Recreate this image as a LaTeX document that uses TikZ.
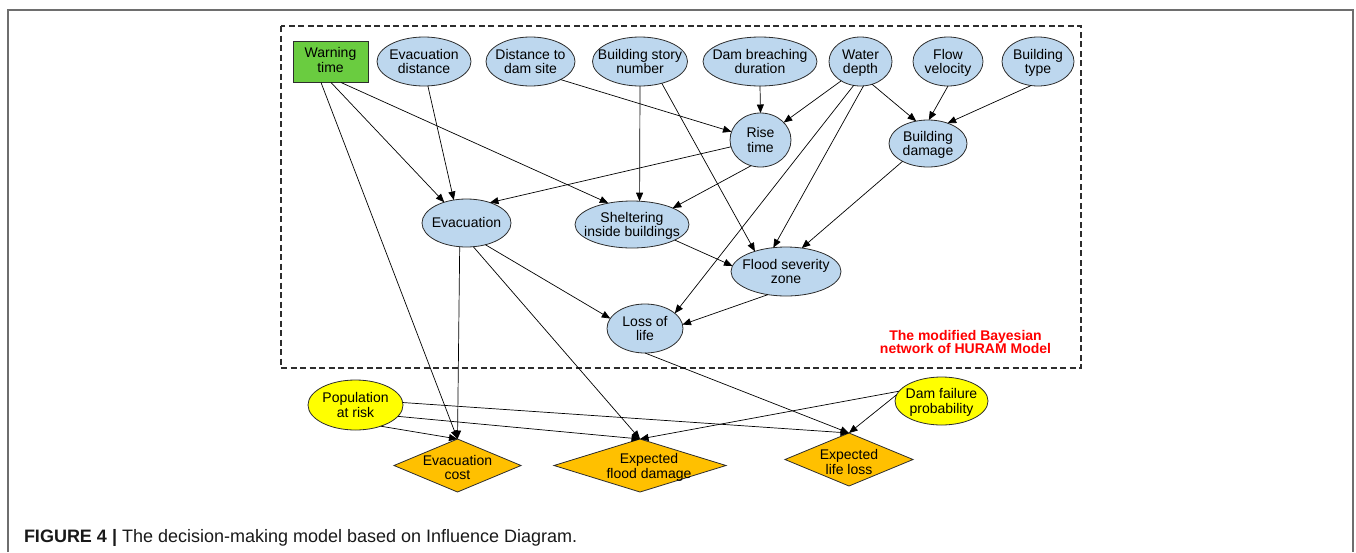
\documentclass[tikz,border=0pt]{standalone}
\usepackage{fontspec}
\setmainfont{Liberation Sans}
\usetikzlibrary{shapes.geometric,arrows.meta}
\definecolor{nodeblue}{RGB}{189,215,238}
\definecolor{warngreen}{RGB}{106,204,64}
\definecolor{riskyellow}{RGB}{255,255,0}
\definecolor{costorange}{RGB}{255,192,0}
\definecolor{framegray}{RGB}{110,110,110}
\definecolor{outlinegray}{RGB}{45,45,45}
\definecolor{labelred}{RGB}{255,0,0}
% centred multi-line label that does not enlarge its node
\newcommand\ntxt[2][-5.5pt]{\makebox[0pt]{\raisebox{#1}[0pt][0pt]{\begin{tabular}{@{}c@{}}#2\end{tabular}}}}

\begin{document}
\begin{tikzpicture}[x=1pt,y=-1pt,
  every node/.style={font=\fontsize{14}{14}\selectfont, inner sep=0pt, outer sep=0pt},
  chance/.style={ellipse, draw=outlinegray, line width=0.8pt, fill=nodeblue},
  inputnode/.style={ellipse, draw=outlinegray, line width=0.8pt, fill=riskyellow},
  decision/.style={rectangle, draw=outlinegray, line width=0.8pt, fill=warngreen},
  utility/.style={diamond, draw=outlinegray, line width=0.8pt, fill=costorange},
  arr/.style={-{Triangle[length=8.5pt,width=7pt]}, line width=0.7pt, black}
]
\useasboundingbox (0,0) rectangle (1356,552);

% outer figure frame, open at the bottom
\draw[framegray, line width=1.2pt] (8,552) -- (8,10) -- (1353,10) -- (1353,552);

% boundary of the Bayesian network part
\draw[outlinegray, line width=1.3pt, dash pattern=on 6pt off 3.5pt] (281,26) rectangle (1081,368);

% top row
\node[decision, minimum width=75pt, minimum height=41pt] (wt) at (330.5,62)
  {\ntxt[-3.6pt]{\fontsize{14}{18}\selectfont Warning\\time}};
\node[chance, minimum width=94pt, minimum height=49pt] (ed) at (424,61.5) {\ntxt{Evacuation\\distance}};
\node[chance, minimum width=89pt, minimum height=49pt] (dd) at (530.5,61.5) {\ntxt{Distance to\\dam site}};
\node[chance, minimum width=95pt, minimum height=49pt] (bsn) at (640,61.5) {\ntxt{Building story\\number}};
\node[chance, minimum width=114pt, minimum height=49pt] (dbd) at (760,61.5) {\ntxt{Dam breaching\\duration}};
\node[chance, minimum width=63pt, minimum height=49pt] (wd) at (860.5,61.5) {\ntxt{Water\\depth}};
\node[chance, minimum width=70pt, minimum height=49pt] (fv) at (948,61.5) {\ntxt{Flow\\velocity}};
\node[chance, minimum width=72pt, minimum height=49pt] (bt) at (1038,61.5) {\ntxt{Building\\type}};

% intermediate nodes
\node[chance, minimum width=61pt, minimum height=54pt] (rt) at (760.5,140) {\ntxt{Rise\\time}};
\node[chance, minimum width=78pt, minimum height=47pt] (bd) at (928,143.5) {\ntxt{Building\\damage}};
\node[chance, minimum width=89pt, minimum height=48pt] (ev) at (466.5,223) {\ntxt{Evacuation}};
\node[chance, minimum width=114pt, minimum height=47pt] (sh) at (632,224.5) {\ntxt{Sheltering\\inside buildings}};
\node[chance, minimum width=110pt, minimum height=49pt] (fsz) at (786,271.5) {\ntxt{Flood severity\\zone}};
\node[chance, minimum width=76pt, minimum height=49pt] (lol) at (645,328.5) {\ntxt{Loss of\\life}};

\node[font=\fontsize{14}{13.5}\selectfont\bfseries, text=labelred, align=center] (lbl) at (965.5,342)
  {The modified Bayesian\\network of HURAM Model};

% outside the network
\node[inputnode, minimum width=95pt, minimum height=50pt] (par) at (355.5,405) {\ntxt{Population\\at risk}};
\node[inputnode, minimum width=93pt, minimum height=48pt] (dfp) at (941.5,401) {\ntxt{Dam failure\\probability}};

\node[utility, minimum width=127pt, minimum height=53pt] (ec) at (457.5,465.5) {\ntxt[-8pt]{Evacuation\\cost}};
\node[utility, minimum width=172pt, minimum height=53pt] (efd) at (640,465.5) {\hspace*{18pt}\ntxt[-6pt]{Expected\\flood damage}};
\node[utility, minimum width=128pt, minimum height=53pt] (ell) at (849,459.5) {\ntxt[-8pt]{Expected\\life loss}};

% arcs of the network
\draw[arr] ([xshift=-9.5pt]wt.south) -- (ec.north);
\draw[arr] ([xshift=0.5pt]wt.south) -- (ev.137);
\draw[arr] ([xshift=10.5pt]wt.south) -- (sh.138);
\draw[arr] (ed.279) -- (ev.119);
\draw[arr] (dd.329) -- (rt.164);
\draw[arr] (bsn.south) -- (sh.72);
\draw[arr] (bsn.315) -- (fsz.147);
\draw[arr] (dbd.south) -- (rt.north);
\draw[arr] (wd.225) -- (rt.37);
\draw[arr] (wd.254) -- (lol.27);
\draw[arr] (wd.277) -- (fsz.118);
\draw[arr] (wd.297) -- (bd.118);
\draw[arr] (fv.south) -- (bd.88);
\draw[arr] (bt.254) -- (bd.46);
\draw[arr] (rt.193) -- (ev.41);
\draw[arr] (rt.250) -- (sh.22);
\draw[arr] (bd.215) -- (fsz.56);
\draw[arr] (sh.340) -- (fsz.174);
\draw[arr] (fsz.232) -- (lol.6);
\draw[arr] (ev.311) -- (lol.164);
\draw[arr] (ev.254) -- (ec.north);
\draw[arr] (ev.286) -- (efd.north);
\draw[arr] (lol.south) -- (ell.north);
\draw[arr] (par.320) -- (ec.north);
\draw[arr] (par.345) -- (efd.north);
\draw[arr] (par.3) -- (ell.north);
\draw[arr] (dfp.167) -- (efd.north);
\draw[arr] (dfp.172) -- (ell.north);

% caption
\node[anchor=base west, font=\fontsize{18}{20}\selectfont, text=black!90] (cap) at (24,542)
  {\textbf{FIGURE 4 |} The decision-making model based on Influence Diagram.};
\end{tikzpicture}
\end{document}
